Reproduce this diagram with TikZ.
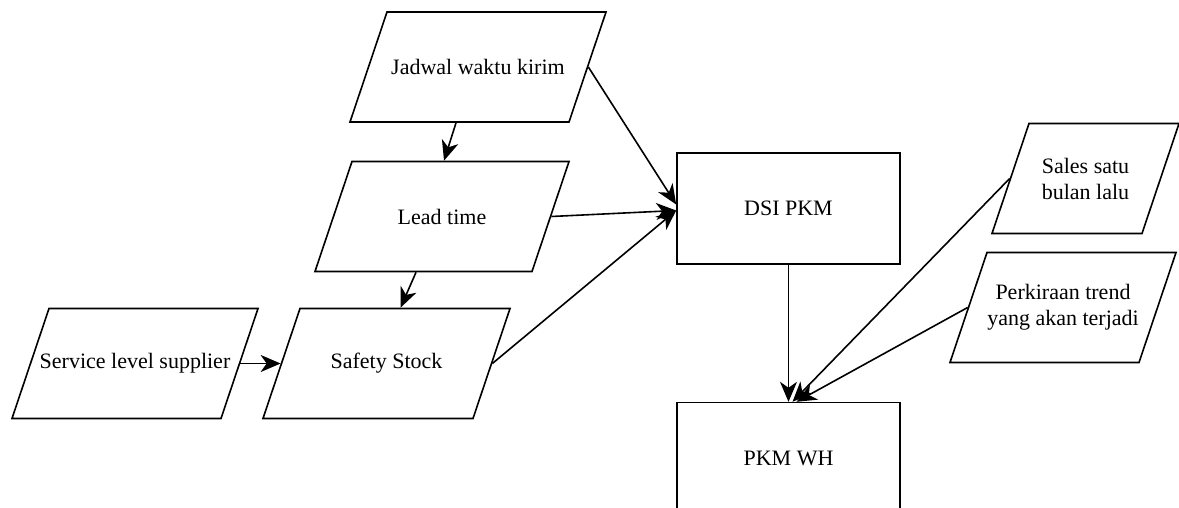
\documentclass[tikz,border=0pt]{standalone}
\usepackage{fontspec}
\setmainfont{Liberation Serif}
\usepackage{tikz}
\usetikzlibrary{calc}
\usetikzlibrary{arrows.meta}
\usetikzlibrary{positioning}
\usetikzlibrary{shapes.geometric}

\tikzset{
  datain/.style={draw, trapezium, trapezium left angle=71.4, trapezium right angle=108.6,
                 inner sep=0pt, text width=#1, text height=55pt, text depth=55pt, line width=1.6pt},
  procbox/.style={draw, rectangle, minimum width=223pt, minimum height=111pt, line width=1.6pt},
  link/.style={-{Stealth[length=20pt, width=17pt, inset=6pt]}, line width=1.6pt}
}

\begin{document}
\begin{tikzpicture}[x=1pt, y=-1pt, font=\fontsize{22}{26}\selectfont]
            \clip (0,0) rectangle (1179,508);
            % Input data (text width = total width - 2*37)
            \node[datain=182pt, label=center:{Jadwal waktu kirim}]      (jadwal)  at ( 478.0,  67.0) {};
            \node[datain=180pt, label=center:{Lead time}]               (lead)    at ( 442.0, 216.5) {};
            \node[datain=173pt, label=center:{Safety Stock}]            (safety)  at ( 386.5, 363.5) {};
            \node[datain=172pt, label=center:{Service level supplier}]  (service) at ( 135.0, 363.5) {};
            \node[datain=113pt, label={[align=center]center:Sales satu\\bulan lalu}]
                                                                         (sales)   at (1085.5, 178.5) {};
            \node[datain=152pt, label={[align=center]center:Perkiraan trend\\yang akan terjadi}]
                                                                         (trend)   at (1063.0, 307.5) {};
            % Process
            \node[procbox]                       (dsi)   at (788.5, 208.5) {DSI PKM};
            \node[procbox, below=137pt of dsi]   (pkmwh)                   {PKM WH};
            % Links
            \draw[link] ($(jadwal.south)+(-22,0)$) -- ($(lead.north)+(2,0)$);
            \draw[link] ($(lead.south)+(-26,0)$)   -- ($(safety.north)+(14,0)$);
            \draw[link] (service.east) -- (safety.west);
            \draw[link] (jadwal.east)  -- ($(dsi.west)+(0,-4)$);
            \draw[link] (lead.east)    -- ($(dsi.west)+(0,2)$);
            \draw[link] (safety.east)  -- ($(dsi.west)+(0,2)$);
            \draw[link] (dsi.south)    -- (pkmwh.north);
            \draw[link] (sales.west)   -- ($(pkmwh.north)+(4,0)$);
            \draw[link] (trend.west)   -- ($(pkmwh.north)+(8,0)$);
\end{tikzpicture}
\end{document}
